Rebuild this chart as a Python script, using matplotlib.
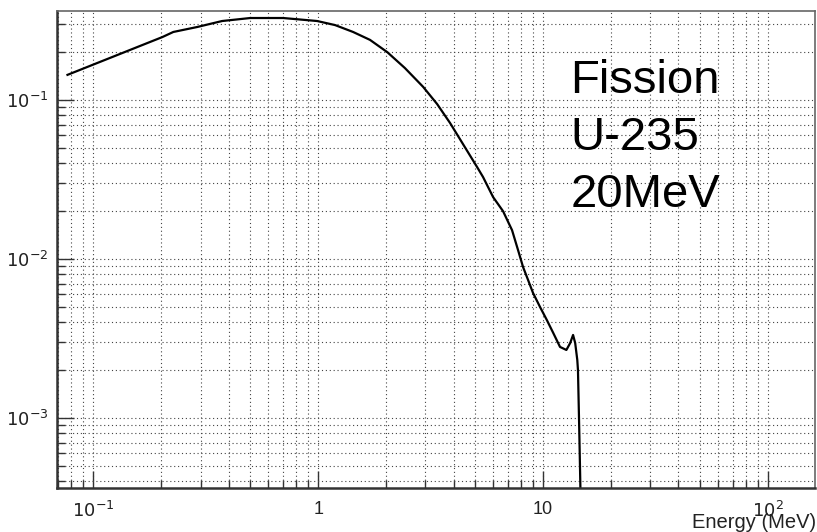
import numpy as np
import matplotlib.pyplot as plt
from matplotlib.ticker import LogLocator, NullFormatter, FixedLocator, FixedFormatter

plt.rcParams['font.family'] = ['Liberation Sans', 'DejaVu Sans']

# fission neutron spectrum, U-235
energy = [0.0768, 0.203, 0.227, 0.29, 0.374, 0.499, 0.699, 0.99, 1.19, 1.43, 1.70,
          2.03, 2.43, 2.93, 3.38, 3.86, 5.09, 5.41, 6.00, 6.64, 7.28, 7.74, 8.15,
          8.58, 9.03, 9.70, 10.4, 11.1, 11.9, 12.7, 13.2, 13.6, 13.9, 14.2, 14.3,
          14.5, 14.7, 14.75]
flux = [0.144, 0.249, 0.268, 0.288, 0.314, 0.328, 0.328, 0.314, 0.296, 0.268, 0.239,
        0.200, 0.159, 0.121, 0.0944, 0.0717, 0.0379, 0.0328, 0.0245, 0.0200, 0.0152,
        0.0114, 0.00891, 0.00738, 0.00611, 0.00499, 0.00413, 0.00343, 0.00280,
        0.00268, 0.00296, 0.00333, 0.00296, 0.00232, 0.0020, 0.0008, 0.0003, 0.00001]

xticks = [0.1, 1, 10, 100]
xtick_labels = [r'$10^{-1}$', '1', '10', r'$10^{2}$']
yticks = [1e-3, 1e-2, 1e-1]
ytick_labels = [r'$10^{-3}$', r'$10^{-2}$', r'$10^{-1}$']

fig = plt.figure(figsize=(8.17, 5.32), dpi=100)
ax = fig.add_axes([0.0698, 0.0827, 0.9278, 0.8966])

ax.plot(energy, flux, color='black', lw=1.6)

ax.set_xscale('log')
ax.set_yscale('log')
ax.set_xlim(0.069, 162)
ax.set_ylim(3.63e-4, 0.363)

ax.xaxis.set_major_locator(FixedLocator(xticks))
ax.xaxis.set_major_formatter(FixedFormatter(xtick_labels))
ax.yaxis.set_major_locator(FixedLocator(yticks))
ax.yaxis.set_major_formatter(FixedFormatter(ytick_labels))
ax.xaxis.set_minor_locator(LogLocator(base=10, subs=np.arange(2, 10), numticks=20))
ax.yaxis.set_minor_locator(LogLocator(base=10, subs=np.arange(2, 10), numticks=20))
ax.xaxis.set_minor_formatter(NullFormatter())
ax.yaxis.set_minor_formatter(NullFormatter())

ax.tick_params(which='major', direction='in', length=12, width=1, color='#333333',
               labelsize=13, labelcolor='#222222', top=False, right=False)
ax.tick_params(which='minor', direction='in', length=6, width=1, color='#333333',
               top=False, right=False)
ax.tick_params(axis='x', which='major', pad=9)
ax.tick_params(axis='y', which='major', pad=6)

ax.grid(True, which='both', linestyle=(0, (1, 2.5)), color='#444444', lw=0.8)

for side in ['left', 'bottom']:
    ax.spines[side].set_linewidth(1.8)
    ax.spines[side].set_color('#333333')
for side in ['top', 'right']:
    ax.spines[side].set_linewidth(1.2)
    ax.spines[side].set_color('#666666')

fig.text(0.999, 0.0, 'Energy (MeV)', ha='right', va='bottom', fontsize=14.5, color='#222222')

ax.text(0.677, 0.828, 'Fission', transform=ax.transAxes, fontsize=34, va='baseline')
ax.text(0.677, 0.709, 'U-235', transform=ax.transAxes, fontsize=34, va='baseline')
ax.text(0.677, 0.589, '20MeV', transform=ax.transAxes, fontsize=34, va='baseline')

fig.savefig('out.png', dpi=100)
